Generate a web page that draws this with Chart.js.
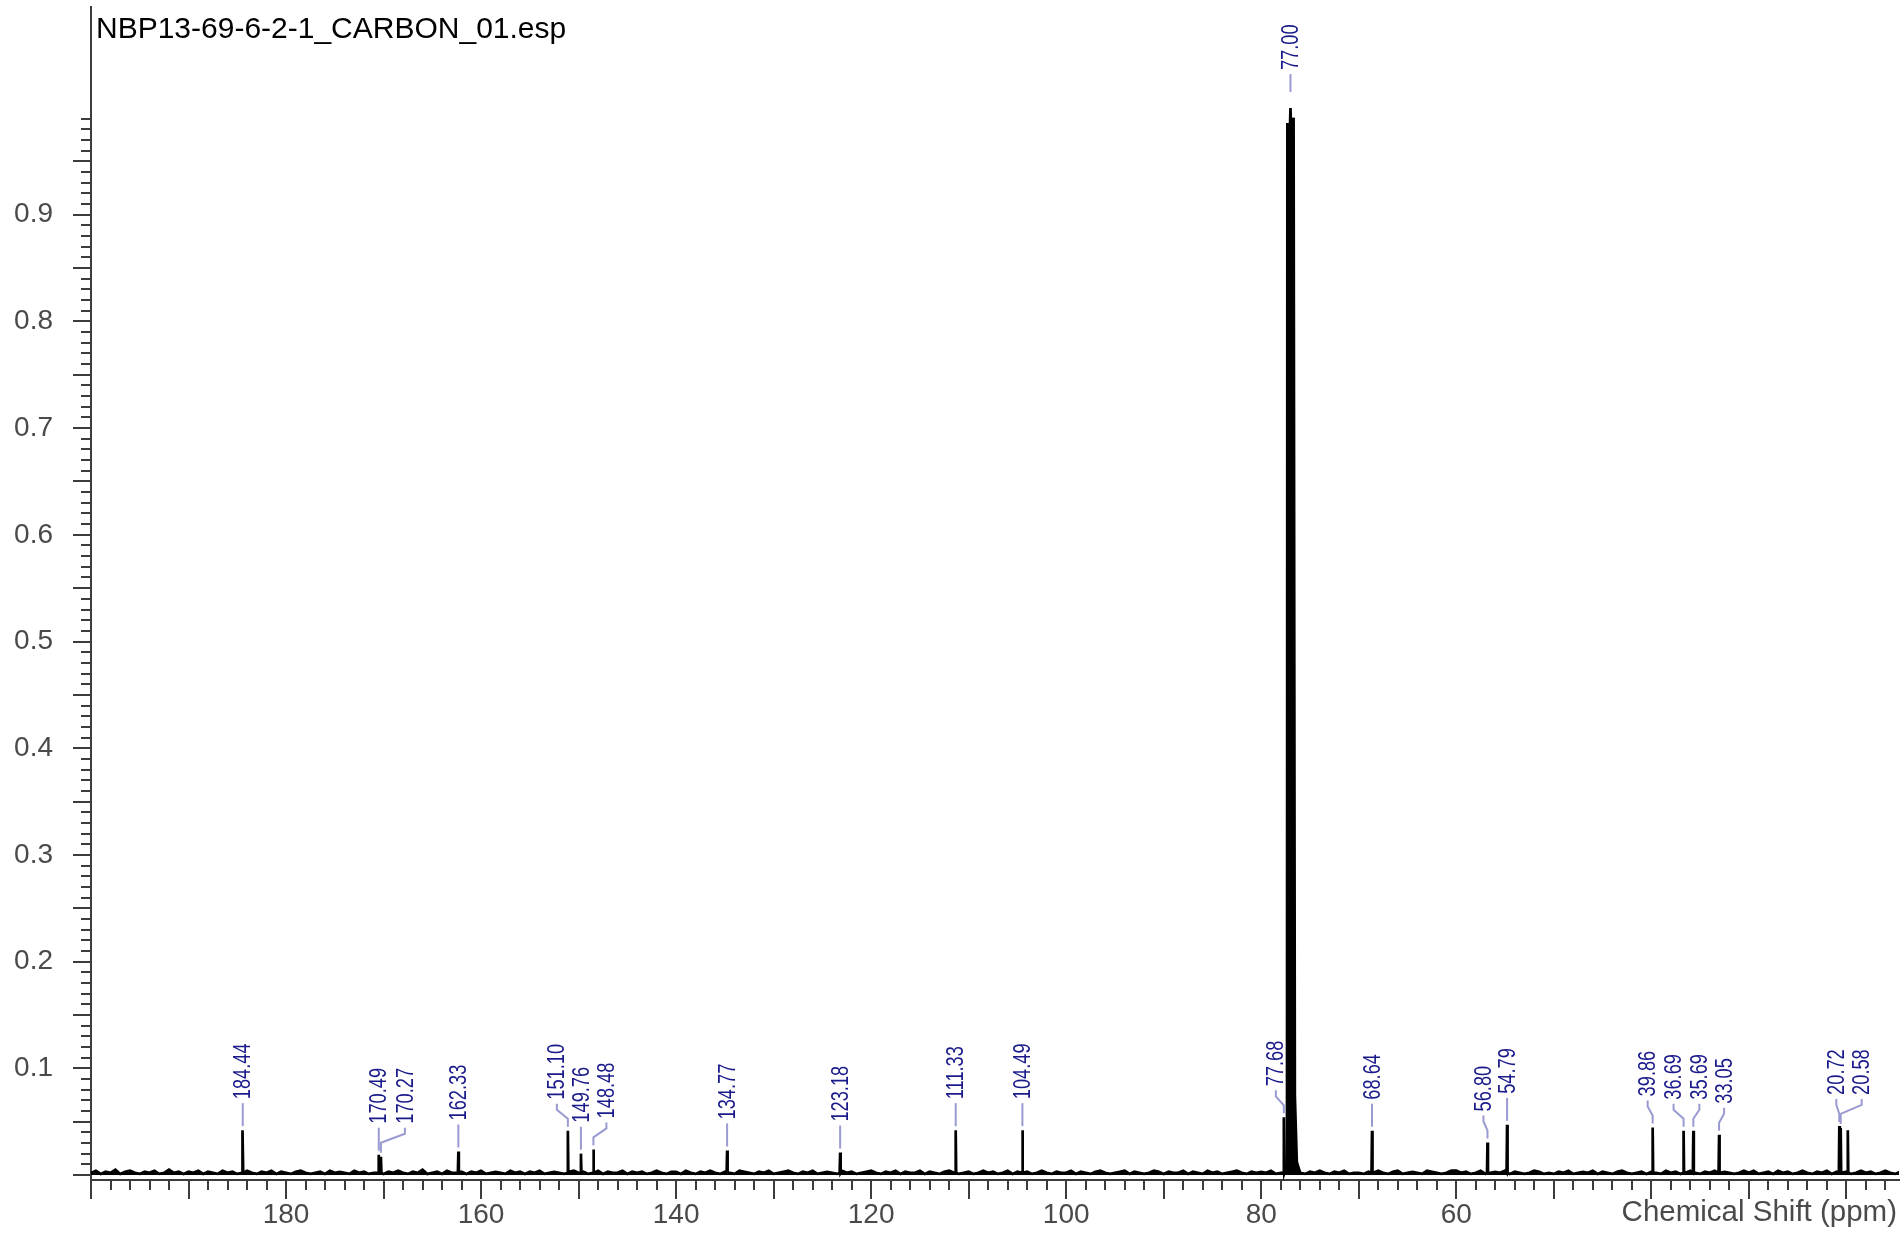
<!DOCTYPE html>
<html><head><meta charset="utf-8">
<script src="https://cdn.jsdelivr.net/npm/chart.js@4.4.1/dist/chart.umd.min.js"></script>
<style>html,body{margin:0;padding:0;background:#fff;overflow:hidden}canvas{display:block}</style>
</head><body>
<canvas id="c" width="1902" height="1235"></canvas>
<script>
// ---------------- data ----------------
const TITLE = "NBP13-69-6-2-1_CARBON_01.esp";
const X_TITLE = "Chemical Shift (ppm)";
const X_TICK_LABELS = [180, 160, 140, 120, 100, 80, 60];
const Y_TICK_LABELS = [0.1, 0.2, 0.3, 0.4, 0.5, 0.6, 0.7, 0.8, 0.9];

// baseline noise, read every 0.5 ppm from 200 ppm downward (units of 0.001)
const BASELINE_START_PPM = 200;
const BASELINE_STEP_PPM = 0.5;
const BASELINE_NOISE = [
2,4,1,3,2,5,1,3,4,2,1,3,2,4,1,2,5,2,3,1,
3,2,4,1,3,2,1,4,2,3,1,2,4,2,1,3,2,4,1,3,
2,1,3,4,2,1,2,3,1,4,2,3,2,1,4,2,3,1,2,4,
1,3,2,4,2,1,3,2,5,1,2,3,1,4,2,2,3,1,3,2,
4,1,2,3,2,1,4,2,3,1,3,2,4,1,2,3,2,1,3,4,
2,3,1,2,4,1,3,2,2,4,1,3,2,3,1,2,4,2,1,3,
3,1,4,2,1,3,2,4,2,1,3,2,1,4,3,2,1,3,2,4,
1,2,3,4,2,1,3,2,4,1,2,3,2,1,4,2,3,1,2,3,
4,2,1,3,2,4,1,3,2,2,4,1,3,2,1,3,4,2,1,2,
3,1,2,4,2,3,1,2,4,1,3,2,3,1,2,4,2,1,3,2,
2,4,1,3,2,1,3,4,2,1,2,3,4,1,3,2,1,2,4,3,
1,3,2,2,4,1,3,2,1,4,2,3,1,2,3,4,2,1,3,2,
3,2,4,1,2,3,1,4,2,1,3,2,4,2,1,3,2,4,1,2,
2,1,3,2,4,2,1,3,4,1,2,3,2,1,4,3,2,1,2,4,
4,2,3,1,2,4,1,2,3,2,4,1,3,2,1,2,4,3,1,2,
1,3,2,4,1,2,3,2,4,1,3,2,1,3,4,2,1,2,3,1,
3,2,1,4,2,3,1,2,4,2,1,3,2,4,1,3,2,1,2,4,
2,4,1,2,3,1,4,2,3,1,2,4,2,1,3,2,4,1,3,2,
3,1,2,4,2,3,1,2,4,2,1,3
];

// peak lines (ppm) and their heights
const PEAK_PPM    = [184.44, 170.49, 170.27, 162.33, 151.10, 149.76, 148.48, 134.77, 123.18, 111.33, 104.49,
                     77.68, 77.32, 77.00, 76.68, 68.64, 56.80, 54.79, 39.86, 36.69, 35.69, 33.05, 20.72, 20.58, 19.85];
const PEAK_HEIGHT = [0.042, 0.019, 0.017, 0.022, 0.0415, 0.020, 0.024, 0.023, 0.021, 0.042, 0.042,
                     0.054, 0.986, 1.000, 0.991, 0.0415, 0.0305, 0.047, 0.0446, 0.0415, 0.0415, 0.0377, 0.046, 0.044, 0.042];

// unresolved body / foot of the CDCl3 triplet
const SOLVENT_FOOT_PPM    = [77.36, 77.16, 76.84, 76.55, 76.35];
const SOLVENT_FOOT_HEIGHT = [0.010, 0.950, 0.950, 0.074, 0.012];

// peak-pick labels
const LABEL_PPM = [184.44, 170.49, 170.27, 162.33, 151.10, 149.76, 148.48, 134.77, 123.18, 111.33, 104.49,
                   77.68, 77.00, 68.64, 56.80, 54.79, 39.86, 36.69, 35.69, 33.05, 20.72, 20.58];
// layout: horizontal offset of each label from its peak (px)
const LABEL_DX  = [0, 0, 24, 0, -11, 0, 13, 0, 0, 0, 0, -8, 0, 0, -4, 0, -5, -10, 6, 5, -3, 21];

// ---------------- build spectrum table ----------------
const BASE_LEVEL = 0.002;
const pts = [];
BASELINE_NOISE.forEach((v, i) => {
  const x = BASELINE_START_PPM - i * BASELINE_STEP_PPM;
  if (x > 76.1 && x < 77.6) return;
  pts.push({x: x, y: v / 1000});
});
PEAK_PPM.forEach((p, i) => {
  const h = PEAK_HEIGHT[i];
  pts.push({x: p, y: h});
  if (h < 0.5) {
    pts.push({x: p + 0.05, y: BASE_LEVEL});
    pts.push({x: p - 0.05, y: BASE_LEVEL});
  }
});
SOLVENT_FOOT_PPM.forEach((p, i) => pts.push({x: p, y: SOLVENT_FOOT_HEIGHT[i]}));
pts.sort((a, b) => b.x - a.x);

// ---------------- drawing ----------------
const FONT = "'Liberation Sans', Arial, Helvetica, sans-serif";
const AXIS_COLOR = '#3c3c3c';
const TEXT_GRAY = '#4a4a4a';

const annotate = {
  id: 'annotate',
  afterDraw(chart) {
    const ctx = chart.ctx, xs = chart.scales.x, ys = chart.scales.y, ca = chart.chartArea;
    ctx.save();
    // tick marks
    ctx.strokeStyle = AXIS_COLOR; ctx.lineWidth = 2;
    ctx.beginPath();
    for (let i = 0; i < 100; i++) {
      const py = Math.round(ys.getPixelForValue(i / 100));
      const len = (i % 5 === 0) ? 18 : 10;
      ctx.moveTo(ca.left - len, py); ctx.lineTo(ca.left, py);
    }
    for (let p = 200; p >= 15; p -= 2) {
      const px = Math.round(xs.getPixelForValue(p));
      const len = (p % 10 === 0) ? 19 : 10;
      ctx.moveTo(px, ca.bottom); ctx.lineTo(px, ca.bottom + len);
    }
    ctx.stroke();

    // peak labels and connectors
    LABEL_PPM.forEach((p, i) => {
      let hmax = 0;
      PEAK_PPM.forEach((q, j) => { if (Math.abs(q - p) <= 0.25) hmax = Math.max(hmax, PEAK_HEIGHT[j]); });
      const own = PEAK_HEIGHT[PEAK_PPM.indexOf(p)];
      const px = xs.getPixelForValue(p);
      const lx = px + LABEL_DX[i];
      const top = ys.getPixelForValue(hmax);
      const ownTop = ys.getPixelForValue(own);
      const tb = top - (hmax > 0.5 ? 38 : 31);
      ctx.strokeStyle = '#9a9ad2'; ctx.lineWidth = 2;
      ctx.beginPath();
      ctx.moveTo(lx, tb + 4);
      if (LABEL_DX[i] !== 0) { ctx.lineTo(lx, tb + 10); ctx.lineTo(px, tb + 19); }
      ctx.lineTo(px, ownTop - (hmax > 0.5 ? 16 : 4));
      ctx.stroke();
      ctx.save();
      ctx.translate(lx, tb);
      ctx.rotate(-Math.PI / 2);
      ctx.scale(0.76, 1);
      ctx.font = "24px " + FONT;
      ctx.fillStyle = '#1a1a8a';
      ctx.textAlign = 'left'; ctx.textBaseline = 'middle';
      ctx.fillText(p.toFixed(2), 0, 1);
      ctx.restore();
    });

    // titles
    ctx.fillStyle = '#000';
    ctx.font = "30px " + FONT;
    ctx.textAlign = 'left'; ctx.textBaseline = 'alphabetic';
    ctx.fillText(TITLE, 96, 38);
    ctx.fillStyle = TEXT_GRAY;
    ctx.font = "29.5px " + FONT;
    ctx.textAlign = 'right';
    ctx.fillText(X_TITLE, 1897, 1221);
    ctx.restore();
  }
};

const tickFont = {family: FONT, size: 28};
new Chart(document.getElementById('c').getContext('2d'), {
  type: 'line',
  data: {datasets: [{data: pts, borderColor: '#000', backgroundColor: '#000', borderWidth: 2.7,
                     pointRadius: 0, tension: 0, fill: 'origin'}]},
  options: {
    responsive: false, animation: false, events: [],
    layout: {padding: {top: 7, right: 3, left: 0, bottom: 0}},
    plugins: {legend: {display: false}, tooltip: {enabled: false}, title: {display: false}},
    scales: {
      x: {
        type: 'linear', reverse: true, min: 14.6, max: 200,
        grid: {display: false, drawTicks: false},
        border: {display: true, color: AXIS_COLOR, width: 2},
        afterBuildTicks: s => { s.ticks = X_TICK_LABELS.map(v => ({value: v})); },
        afterFit: s => { s.height = 55; s.paddingLeft = 0; s.paddingRight = 0; },
        ticks: {font: tickFont, color: TEXT_GRAY, padding: 18, maxRotation: 0, autoSkip: false,
                callback: v => String(v)}
      },
      y: {
        type: 'linear', min: -0.0047, max: 1.0947,
        grid: {display: false, drawTicks: false},
        border: {display: true, color: AXIS_COLOR, width: 2},
        afterBuildTicks: s => { s.ticks = Y_TICK_LABELS.map(v => ({value: v})); },
        afterFit: s => { s.width = 91; s.paddingTop = 0; s.paddingBottom = 0; },
        ticks: {font: tickFont, color: TEXT_GRAY, padding: 38, autoSkip: false,
                callback: v => Number(v).toFixed(1)}
      }
    }
  },
  plugins: [annotate]
});
</script>
</body></html>
